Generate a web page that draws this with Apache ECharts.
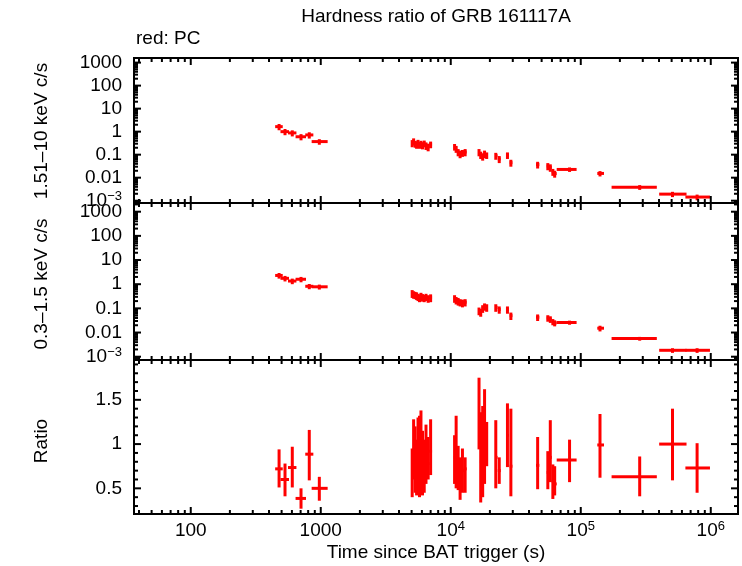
<!DOCTYPE html>
<html><head><meta charset="utf-8">
<script src="https://cdn.jsdelivr.net/npm/echarts@6/dist/echarts.min.js"></script>
<style>html,body{margin:0;padding:0;background:#fff}#c{width:742px;height:566px}</style>
</head><body><div id="c"></div>
<script>
// ---- data (time in s since BAT trigger) ----
const time   = [478, 531, 604, 705, 816, 975,
  5050, 5180, 5320, 5460, 5600, 5750, 5900, 6060, 6250, 6450, 6700, 7000,
  10700, 11000, 11400, 11800, 12300, 12900,
  16500, 17000, 17600, 18200, 18900,
  22200, 23600, 27300, 29000, 46600,
  55800, 58300, 61000, 63000,
  82000, 140600, 284000, 508000, 785000];
const timeLo = [446, 490, 560, 640, 760, 851,
  4980, 5110, 5250, 5390, 5530, 5680, 5830, 5980, 6160, 6350, 6580, 6850,
  10550, 10850, 11200, 11600, 12050, 12600,
  16200, 16750, 17300, 17900, 18550,
  21900, 23000, 26900, 28400, 45300,
  54700, 57000, 59800, 62000,
  65300, 134000, 172600, 401000, 638000];
const timeHi = [510, 570, 650, 770, 877, 1130,
  5110, 5250, 5390, 5530, 5680, 5830, 5980, 6160, 6350, 6580, 6850, 7180,
  10850, 11200, 11600, 12050, 12600, 13250,
  16750, 17300, 17900, 18550, 19350,
  22900, 24200, 28000, 29800, 48000,
  57000, 59800, 62000, 65300,
  92900, 151000, 384700, 651000, 986000];
const hard    = [1.65, 1.0, 0.88, 0.6, 0.72, 0.37,
  0.32, 0.38, 0.30, 0.28, 0.33, 0.27, 0.30, 0.26, 0.31, 0.25, 0.22, 0.28,
  0.22, 0.18, 0.13, 0.11, 0.12, 0.13,
  0.13, 0.10, 0.085, 0.11, 0.095,
  0.09, 0.065, 0.095, 0.045, 0.037,
  0.032, 0.028, 0.018, 0.015,
  0.0228, 0.0153, 0.00385, 0.00193, 0.00144];
const hardErr = [0.5, 0.3, 0.26, 0.18, 0.22, 0.1,
  0.11, 0.13, 0.10, 0.10, 0.11, 0.09, 0.10, 0.09, 0.10, 0.09, 0.08, 0.09,
  0.07, 0.06, 0.045, 0.04, 0.04, 0.045,
  0.045, 0.035, 0.03, 0.04, 0.03,
  0.03, 0.022, 0.03, 0.015, 0.012,
  0.011, 0.01, 0.006, 0.005,
  0.005, 0.004, 0.0009, 0.0005, 0.0004];
const soft    = [2.3, 1.75, 1.35, 1.6, 0.82, 0.78,
  0.42, 0.38, 0.36, 0.34, 0.30, 0.28, 0.33, 0.29, 0.27, 0.30, 0.26, 0.28,
  0.26, 0.22, 0.20, 0.18, 0.17, 0.18,
  0.08, 0.07, 0.10, 0.12, 0.11,
  0.11, 0.09, 0.09, 0.05, 0.043,
  0.04, 0.036, 0.028, 0.025,
  0.026, 0.0151, 0.0056, 0.00184, 0.00184];
const softErr = [0.6, 0.45, 0.35, 0.4, 0.2, 0.18,
  0.15, 0.13, 0.12, 0.12, 0.10, 0.10, 0.11, 0.10, 0.09, 0.10, 0.09, 0.10,
  0.09, 0.075, 0.07, 0.06, 0.06, 0.06,
  0.028, 0.025, 0.035, 0.04, 0.038,
  0.038, 0.03, 0.03, 0.017, 0.013,
  0.012, 0.011, 0.008, 0.007,
  0.005, 0.004, 0.001, 0.0004, 0.0004];
const ratio   = [0.72, 0.60, 0.735, 0.386, 0.886, 0.50,
  0.62, 0.95, 0.80, 0.70, 0.85, 0.75, 0.95, 0.80, 0.72, 0.88, 0.78, 0.92,
  0.85, 0.90, 0.68, 0.62, 0.70, 0.72,
  1.35, 0.80, 0.85, 1.05, 0.95,
  0.85, 0.70, 1.10, 0.75, 0.76,
  0.68, 0.85, 0.58, 0.55,
  0.82, 0.99, 0.63, 1.00, 0.73];
const ratioLo = [0.51, 0.41, 0.51, 0.27, 0.59, 0.36,
  0.40, 0.60, 0.45, 0.42, 0.52, 0.40, 0.62, 0.42, 0.45, 0.55, 0.60, 0.65,
  0.55, 0.50, 0.48, 0.37, 0.45, 0.45,
  0.94, 0.34, 0.40, 0.55, 0.75,
  0.50, 0.55, 0.74, 0.41, 0.49,
  0.49, 0.57, 0.38, 0.42,
  0.57, 0.62, 0.41, 0.59, 0.45];
const ratioHi = [0.94, 0.78, 0.97, 0.50, 1.16, 0.63,
  0.95, 1.28, 1.20, 1.05, 1.30, 1.32, 1.38, 1.15, 1.05, 1.22, 1.08, 1.28,
  1.10, 1.32, 0.98, 0.85, 0.95, 0.85,
  1.75, 1.36, 1.43, 1.62, 1.25,
  1.27, 0.85, 1.46, 1.40, 1.08,
  0.92, 1.27, 0.77, 0.75,
  1.05, 1.34, 0.86, 1.40, 1.01];

// tick values
const xMajor = [100, 1000, 1e4, 1e5, 1e6];
const logMajor = [1e-3, 1e-2, 0.1, 1, 10, 100, 1000];
const ratioMajor = [0.5, 1.0, 1.5];
const ratioMinor = [0.3, 0.4, 0.6, 0.7, 0.8, 0.9, 1.1, 1.2, 1.3, 1.4, 1.6, 1.7, 1.8, 1.9];

// ---- build ----
const FONT = '"Liberation Sans", Arial, sans-serif';
const FS = 19;
const RED = '#ff0000';
const xMin = 36.6, xMax = 1.62e6;
const yRanges = [[7.94e-4, 1585], [7.3e-4, 2290], [0.21, 1.95]];

function minorsLog(lo, hi) {
  const out = [];
  for (let e = -5; e <= 7; e++) {
    for (let k = 2; k <= 9; k++) {
      const v = k * Math.pow(10, e);
      if (v > lo && v < hi) out.push(v);
    }
  }
  return out;
}

const grids = [
  {left: 134, top: 58, width: 604, height: 145},
  {left: 134, top: 203, width: 604, height: 157},
  {left: 134, top: 360, width: 604, height: 154}
].map(g => Object.assign(g, {show: true, borderColor: '#000', borderWidth: 2, backgroundColor: 'transparent'}));

const SUP = {
  b: {fontSize: FS, fontFamily: FONT, color: '#000', lineHeight: 22},
  s: {fontSize: 13, fontFamily: FONT, color: '#000', verticalAlign: 'top', lineHeight: 13}
};
function expLabel(v) {
  const e = Math.round(Math.log10(v));
  const plain = {'-2': '0.01', '-1': '0.1', '0': '1', '1': '10', '2': '100', '3': '1000'};
  if (plain[e] !== undefined) return '{b|' + plain[e] + '}';
  return '{b|10}{s|' + (e < 0 ? '\u2212' : '') + Math.abs(e) + '}';
}

const xAxes = grids.map((g, i) => ({
  type: 'log', logBase: 10, gridIndex: i, min: xMin, max: xMax,
  axisLine: {show: false}, axisTick: {show: false}, splitLine: {show: false},
  axisLabel: i === 2 ? {
    show: true, margin: 6, showMinLabel: false, showMaxLabel: false, interval: 0,
    formatter: expLabel, rich: SUP
  } : {show: false}
}));
const yAxes = grids.map((g, i) => (i < 2 ? {
  type: 'log', logBase: 10, gridIndex: i, min: yRanges[i][0], max: yRanges[i][1],
  axisLine: {show: false}, axisTick: {show: false}, splitLine: {show: false},
  axisLabel: {show: true, margin: 12, showMinLabel: false, showMaxLabel: false, interval: 0,
    formatter: expLabel, rich: SUP}
} : {
  type: 'value', gridIndex: i, min: yRanges[i][0], max: yRanges[i][1], splitNumber: 3,
  axisLine: {show: false}, axisTick: {show: false}, splitLine: {show: false},
  axisLabel: {show: true, margin: 12, showMinLabel: false, showMaxLabel: false,
    fontSize: FS, fontFamily: FONT, color: '#000'}
}));

function errRender(params, api) {
  const c = api.coord([api.value(0), api.value(1)]);
  const l = api.coord([api.value(2), api.value(1)]);
  const r = api.coord([api.value(3), api.value(1)]);
  const lo = api.coord([api.value(0), api.value(4)]);
  const hi = api.coord([api.value(0), api.value(5)]);
  const st = {stroke: RED, lineWidth: 3};
  return {type: 'group', children: [
    {type: 'line', shape: {x1: l[0], y1: c[1], x2: r[0], y2: c[1]}, style: st},
    {type: 'line', shape: {x1: c[0], y1: hi[1], x2: c[0], y2: lo[1]}, style: st}
  ]};
}
function xTickRender(params, api) {
  const cs = params.coordSys;
  const p = api.coord([api.value(0), api.value(1)]);
  const len = api.value(2) ? 7 : 4;
  const st = {stroke: '#000', lineWidth: 2};
  return {type: 'group', children: [
    {type: 'line', shape: {x1: p[0], y1: cs.y + cs.height, x2: p[0], y2: cs.y + cs.height - len}, style: st},
    {type: 'line', shape: {x1: p[0], y1: cs.y, x2: p[0], y2: cs.y + len}, style: st}
  ]};
}
function yTickRender(params, api) {
  const cs = params.coordSys;
  const p = api.coord([api.value(0), api.value(1)]);
  const len = api.value(2) ? 7 : 4;
  const st = {stroke: '#000', lineWidth: 2};
  return {type: 'group', children: [
    {type: 'line', shape: {x1: cs.x, y1: p[1], x2: cs.x + len, y2: p[1]}, style: st},
    {type: 'line', shape: {x1: cs.x + cs.width, y1: p[1], x2: cs.x + cs.width - len, y2: p[1]}, style: st}
  ]};
}

const series = [];
const xMinor = minorsLog(xMin, xMax);
grids.forEach((g, i) => {
  const yRef = 1;
  series.push({
    type: 'custom', xAxisIndex: i, yAxisIndex: i, silent: true, z: 5,
    renderItem: xTickRender,
    data: xMajor.map(v => [v, yRef, 1]).concat(xMinor.map(v => [v, yRef, 0]))
  });
  const yMaj = i < 2 ? logMajor : ratioMajor;
  const yMin = i < 2 ? minorsLog(yRanges[i][0], yRanges[i][1]) : ratioMinor;
  series.push({
    type: 'custom', xAxisIndex: i, yAxisIndex: i, silent: true, z: 5,
    renderItem: yTickRender,
    data: yMaj.map(v => [1000, v, 1]).concat(yMin.map(v => [1000, v, 0]))
  });
});
const panels = [
  time.map((t, k) => [t, hard[k], timeLo[k], timeHi[k], hard[k] - hardErr[k], hard[k] + hardErr[k]]),
  time.map((t, k) => [t, soft[k], timeLo[k], timeHi[k], soft[k] - softErr[k], soft[k] + softErr[k]]),
  time.map((t, k) => [t, ratio[k], timeLo[k], timeHi[k], ratioLo[k], ratioHi[k]])
];
panels.forEach((d, i) => series.push({
  type: 'custom', xAxisIndex: i, yAxisIndex: i, silent: true, z: 3,
  renderItem: errRender, data: d
}));

const txt = (text, x, y, rot, align) => ({
  type: 'text', x: x, y: y, rotation: rot || 0, silent: true,
  style: {text: text, fill: '#000', font: FS + 'px ' + FONT,
    align: align || 'center', verticalAlign: 'middle'}
});

const chart = echarts.init(document.getElementById('c'), null, {renderer: 'canvas'});
chart.setOption({
  animation: false,
  backgroundColor: '#fff',
  grid: grids,
  xAxis: xAxes,
  yAxis: yAxes,
  series: series,
  graphic: [
    txt('Hardness ratio of GRB 161117A', 436, 17, 0),
    txt('red: PC', 136, 39, 0, 'left'),
    txt('1.51\u201310 keV c/s', 42, 131, Math.PI / 2),
    txt('0.3\u20131.5 keV c/s', 42, 284, Math.PI / 2),
    txt('Ratio', 42, 441, Math.PI / 2),
    txt('Time since BAT trigger (s)', 436, 553, 0)
  ]
});
</script>
</body></html>
